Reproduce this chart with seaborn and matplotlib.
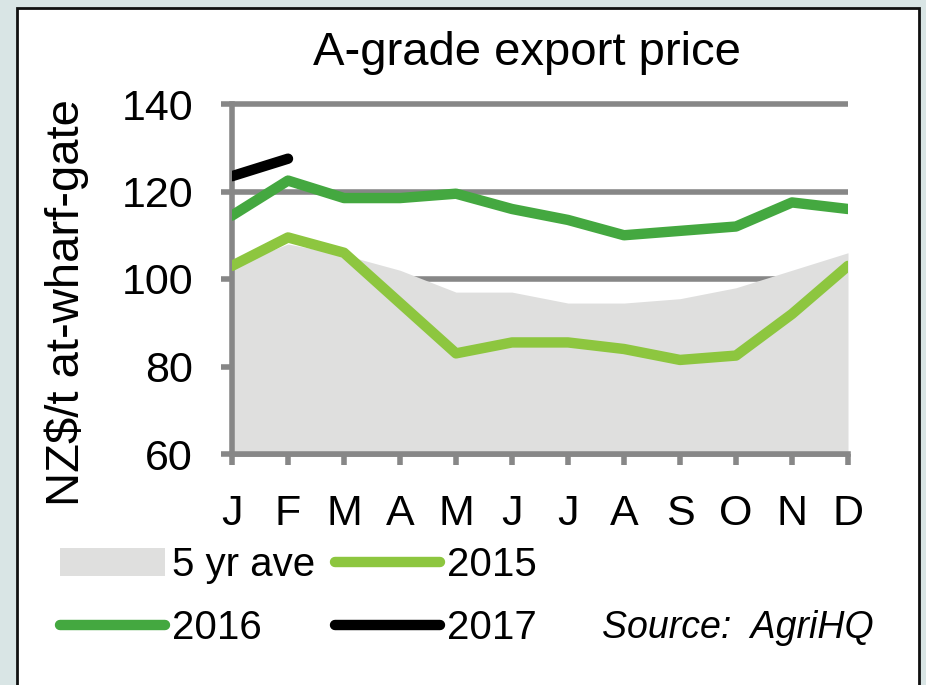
import matplotlib
matplotlib.use("Agg")
import matplotlib.pyplot as plt
from matplotlib.patches import Patch, Rectangle
from matplotlib.lines import Line2D
import seaborn as sns
import pandas as pd

months = ['J', 'F', 'M', 'A', 'M', 'J', 'J', 'A', 'S', 'O', 'N', 'D']
ave_5yr = [103, 108, 105.5, 102, 97, 97, 94.5, 94.5, 95.5, 98, 102, 106]
price_2015 = [103, 109.5, 106, 94.5, 83, 85.5, 85.5, 84, 81.5, 82.5, 92, 103]
price_2016 = [114.5, 122.5, 118.5, 118.5, 119.5, 116, 113.5, 110, 111, 112, 117.5, 116]
price_2017 = [123.5, 127.5]

c_ave = '#dfdfde'
c_2015 = '#8dc63f'
c_2016 = '#44a840'
c_2017 = '#000000'
c_grid = '#878787'

sns.set_theme(style='white')
plt.rcParams['font.family'] = ['Liberation Sans Narrow', 'Liberation Sans', 'DejaVu Sans']
plt.rcParams['text.color'] = 'black'
plt.rcParams['axes.labelcolor'] = 'black'
plt.rcParams['xtick.color'] = 'black'
plt.rcParams['ytick.color'] = 'black'

fig = plt.figure(figsize=(9.26, 6.85), dpi=100)
fig.patch.set_facecolor('#d9e5e5')
fig.patches.append(Rectangle((17 / 926, -0.05), (919 - 17) / 926, 1.05 - 8 / 685,
                             transform=fig.transFigure, facecolor='white',
                             edgecolor='#111111', linewidth=2, zorder=-1))

ax = fig.add_axes([232 / 926, 1 - 454 / 685, (848 - 232) / 926, (454 - 104) / 685])
ax.set_facecolor('none')

x = list(range(len(months)))
ax.fill_between(x, 60, ave_5yr, color=c_ave, linewidth=0, zorder=1)

df15 = pd.DataFrame({'m': x, 'v': price_2015})
df16 = pd.DataFrame({'m': x, 'v': price_2016})
df17 = pd.DataFrame({'m': x[:len(price_2017)], 'v': price_2017})
sns.lineplot(data=df15, x='m', y='v', ax=ax, color=c_2015, linewidth=7.5,
             solid_capstyle='round', zorder=3)
sns.lineplot(data=df16, x='m', y='v', ax=ax, color=c_2016, linewidth=7.5,
             solid_capstyle='round', zorder=3)
sns.lineplot(data=df17, x='m', y='v', ax=ax, color=c_2017, linewidth=7.5,
             solid_capstyle='round', zorder=4)

ax.set_xlim(0, 11)
ax.set_ylim(60, 140)
ax.set_xticks(x)
ax.set_xticklabels(months)
ax.set_yticks([60, 80, 100, 120, 140])
ax.set_xlabel('')
ax.set_ylabel('NZ$/t at-wharf-gate', fontsize=34)
ax.yaxis.set_label_coords(-0.232, 0.434)
fig.text(527 / 926, 1 - 65 / 685, 'A-grade export price', fontsize=34,
         ha='center', va='baseline')

ax.set_axisbelow(True)
ax.yaxis.grid(True, color=c_grid, linewidth=4, solid_capstyle='butt')
ax.xaxis.grid(False)
for gl in ax.get_ygridlines():
    gl.set_clip_on(False)
for s in ['top', 'right']:
    ax.spines[s].set_visible(False)
for s in ['left', 'bottom']:
    ax.spines[s].set_color(c_grid)
    ax.spines[s].set_linewidth(4)
ax.tick_params(axis='both', which='major', direction='out', length=8, width=4,
               color=c_grid, labelcolor='black', labelsize=31)
ax.tick_params(axis='x', bottom=True, pad=21)
ax.tick_params(axis='y', left=True, pad=20)

handles = [Patch(facecolor=c_ave, edgecolor='none'),
           Line2D([], [], color=c_2016, linewidth=7.5, solid_capstyle='round'),
           Line2D([], [], color=c_2015, linewidth=7.5, solid_capstyle='round'),
           Line2D([], [], color=c_2017, linewidth=7.5, solid_capstyle='round')]
labels = ['5 yr ave', '2016', '2015', '2017']
fig.legend(handles, labels, loc='upper left', bbox_to_anchor=(60 / 926, 1 - 546 / 685),
           ncol=2, frameon=False, fontsize=29, handlelength=2.6, handletextpad=0.18,
           columnspacing=0.5, labelspacing=0.62, borderpad=0, borderaxespad=0,
           labelcolor='black')

fig.text(602 / 926, 1 - 628 / 685, 'Source:  AgriHQ', fontsize=27, style='italic',
         va='center', ha='left')

fig.savefig('out.png', dpi=100, facecolor=fig.get_facecolor())
